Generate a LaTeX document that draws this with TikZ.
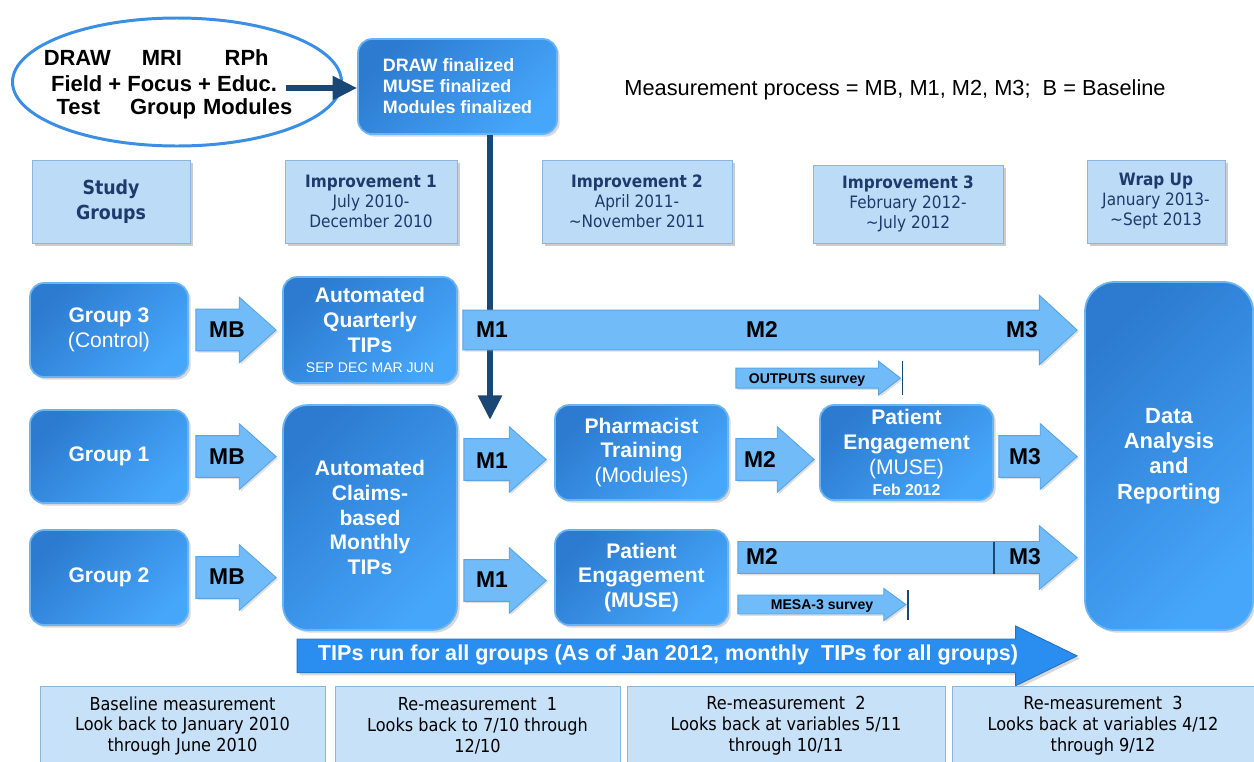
\documentclass[tikz,border=0pt]{standalone}
\usepackage{fontspec}
\setmainfont{Liberation Sans}
\newfontfamily\tahoma{DejaVu Sans Condensed}
\usetikzlibrary{arrows.meta,positioning,shapes,shadows,calc}

\definecolor{boxdark}{HTML}{2C7BD0}
\definecolor{boxlight}{HTML}{46A6FA}
\definecolor{boxedge}{HTML}{6AB4F4}
\definecolor{arrfill}{HTML}{70BBF8}
\definecolor{arredge}{HTML}{58A4E6}
\definecolor{tipsblue}{HTML}{2A8EF0}
\definecolor{hdrfill}{HTML}{BCDBF7}
\definecolor{hdredge}{HTML}{8DB5DB}
\definecolor{hdrtext}{HTML}{1E3A6C}
\definecolor{navy}{HTML}{1B4775}
\definecolor{elledge}{HTML}{3A8EE4}
\definecolor{footfill}{HTML}{C6E1F8}

\tikzset{
  wh/.style 2 args={minimum width=#1*0.02cm, minimum height=#2*0.02cm},
  bluebox/.style={rounded corners=8pt, draw=boxedge, line width=1pt,
    left color=boxdark, right color=boxlight, shading angle=45,
    drop shadow={opacity=.3, shadow xshift=1.5pt, shadow yshift=-1.5pt},
    text=white, align=center, inner sep=0pt,
    font=\bfseries\fontsize{12}{14.2}\selectfont},
  hdrbox/.style={draw=hdredge, fill=hdrfill, text=hdrtext, align=center, inner sep=0pt,
    drop shadow={opacity=.4, shadow xshift=1.5pt, shadow yshift=-1.5pt},
    font=\tahoma\fontsize{9.7}{11.4}\selectfont},
  footbox/.style={draw=hdredge, fill=footfill, text=black, align=center, inner sep=0pt,
    font=\tahoma\fontsize{10.2}{11.9}\selectfont},
  ideaword/.style={inner sep=0pt, font=\bfseries\fontsize{12.5}{14}\selectfont},
  arrlbl/.style={font=\bfseries\fontsize{13}{15}\selectfont, text=black, inner sep=0pt},
  blockarr/.style={fill=arrfill, draw=arredge, line width=.5pt,
    drop shadow={opacity=.25, shadow xshift=1pt, shadow yshift=-1pt}},
  tipsarr/.style={fill=tipsblue, draw=tipsblue!80!black, line width=.5pt,
    drop shadow={opacity=.3, shadow xshift=1.5pt, shadow yshift=-1.5pt}},
  navyarr/.style={draw=navy, line width=3.4pt, -{Triangle[width=13pt,length=14pt]}},
  divider/.style={draw=navy, line width=.8pt},
}

% block arrow: tail, tip, shaft half, head half, head length
\newcommand{\blockarrow}[6][blockarr]{%
  \path[#1] let \p1=#2, \p2=#3 in
    (\x1,\y1+#4) -- (\x2-#6,\y1+#4) -- (\x2-#6,\y1+#5) -- (\x2,\y1)
    -- (\x2-#6,\y1-#5) -- (\x2-#6,\y1-#4) -- (\x1,\y1-#4) -- cycle;}
\newcommand{\ideacol}[1]{\makebox[48.2pt][c]{#1}}

\begin{document}
\begin{tikzpicture}[x=0.02cm, y=-0.02cm]
  \useasboundingbox (0,0) rectangle (1254,761);
  \clip (0,0) rectangle (1254,761);
  \fill[white] (0,0) rectangle (1254,761);

  % top row
  \node[ellipse, draw=elledge, line width=1.7pt, fill=white, wh={329}{128}] (ideas) at (177,82) {};
  \node[ideaword] (ideasa) at (162,58) {\ideacol{DRAW}\ideacol{MRI}\ideacol{RPh}};
  \node[ideaword] (ideasb) at (164,84) {Field + Focus + Educ.};
  \node[ideaword] (ideasc) at (163,109) {\ideacol{Test}\ideacol{Group}\ideacol{Modules}};
  \node[bluebox, wh={199}{95}, align=left, font=\bfseries\fontsize{10.2}{12}\selectfont] (fin) at (457.5,86.5)
    {DRAW finalized\\MUSE finalized\\Modules finalized};
  \node[font=\fontsize{12.4}{14}\selectfont] (meas) at (895,90)
    {Measurement process = MB, M1, M2, M3;\ \ B = Baseline};

  % headers
  \node[hdrbox, wh={158}{83}, font=\tahoma\bfseries\fontsize{11}{14}\selectfont] (sg) at (111,201.5) {Study\\Groups};
  \node[hdrbox, wh={172}{83}] (imp1) at (371,201.5) {{\bfseries Improvement 1}\\July 2010-\\December 2010};
  \node[hdrbox, wh={190}{83}] (imp2) at (637,201.5) {{\bfseries Improvement 2}\\April 2011-\\\textasciitilde November 2011};
  \node[hdrbox, wh={190}{78}] (imp3) at (908,204) {{\bfseries Improvement 3}\\February 2012-\\\textasciitilde July 2012};
  \node[hdrbox, wh={138}{83}] (wrap) at (1156,201.5) {{\bfseries Wrap Up}\\January 2013-\\\textasciitilde Sept 2013};

  % groups and interventions
  \node[bluebox, wh={158}{94}] (g3) at (109,330) {Group 3\\{\mdseries (Control)}};
  \node[bluebox, wh={158}{93}] (g1) at (109,456.5) {Group 1};
  \node[bluebox, wh={158}{95}] (g2) at (109,577.5) {Group 2};
  \node[bluebox, wh={174}{106}] (aqt) at (370,330)
    {Automated\\Quarterly\\TIPs\\[-3pt]{\mdseries\fontsize{8}{9}\selectfont SEP DEC MAR JUN}};
  \node[bluebox, wh={174}{225}, rounded corners=14pt] (acm) at (370,517.5)
    {Automated\\Claims-\\based\\Monthly\\TIPs};
  \node[bluebox, wh={173}{95}] (pt) at (641.5,452.5) {Pharmacist\\Training\\{\mdseries (Modules)}};
  \node[bluebox, wh={173}{95}] (pe1) at (906.5,452.5)
    {Patient\\Engagement\\{\mdseries (MUSE)}\\[-2pt]{\fontsize{9}{10}\selectfont Feb 2012}};
  \node[bluebox, wh={173}{95}] (pe2) at (641.5,577.5) {Patient\\Engagement\\(MUSE)};
  \node[bluebox, wh={168}{348}, rounded corners=17pt, font=\bfseries\fontsize{12.5}{14.4}\selectfont] (da) at (1169,456)
    {Data\\Analysis\\and\\Reporting};

  % finalization flow
  \coordinate (ideasend) at (286,88);
  \coordinate (drop) at (490,420);
  \draw[navyarr] (ideasend) -- (fin.west |- ideasend);
  \draw[navyarr] (fin.south -| drop) -- (drop);

  % measurement arrows
  \blockarrow{($(g3.east)+(7,0)$)}{($(aqt.west)+(-6,0)$)}{11.9pt}{18.7pt}{21pt}
  \blockarrow{($(g1.east)+(7,0)$)}{($(g1.east -| acm.west)+(-6,0)$)}{11.9pt}{18.7pt}{21pt}
  \blockarrow{($(g2.east)+(7,0)$)}{($(g2.east -| acm.west)+(-6,0)$)}{11.9pt}{18.7pt}{21pt}
  \blockarrow{($(aqt.east)+(5,0)$)}{($(aqt.east -| da.west)+(-7,0)$)}{11.3pt}{19.8pt}{21.5pt}
  \blockarrow{($(g1.east -| acm.east)+(6,3)$)}{($(g1.east -| pt.west)+(-8,3)$)}{11.9pt}{18.7pt}{21pt}
  \blockarrow{($(g1.east -| pt.east)+(7,3)$)}{($(g1.east -| pe1.west)+(-5,3)$)}{11.9pt}{18.7pt}{21pt}
  \blockarrow{($(g1.east -| pe1.east)+(5,0)$)}{($(g1.east -| da.west)+(-7,0)$)}{11.9pt}{18.7pt}{21pt}
  \blockarrow{($(g2.east -| acm.east)+(6,3)$)}{($(g2.east -| pe2.west)+(-8,3)$)}{11.9pt}{18.7pt}{21pt}
  \blockarrow{($(pe2.east)+(9,-20)$)}{($(pe2.east -| da.west)+(-7,-20)$)}{9.1pt}{18.1pt}{21.5pt}
  \blockarrow{($(pe1.north -| pt.east)+(7,-26)$)}{($(pe1.north)+(-6,-26)$)}{5.7pt}{9.6pt}{12.5pt}
  \blockarrow{($(pe2.east)+(9,27)$)}{($(pe2.east)+(177,27)$)}{5.4pt}{9.1pt}{12.5pt}
  \blockarrow[tipsarr]{($(acm.south west)+(15,25)$)}{($(acm.south -| da.west)+(-7,25)$)}{9.6pt}{17pt}{35pt}

  \draw[divider] ($(pe1.north)+(-4,-43)$) -- ($(pe1.north)+(-4,-9)$);
  \draw[divider] ($(pe2.east)+(179,12)$) -- ($(pe2.east)+(179,42)$);
  \draw[divider] ($(pe1.east |- pe2.east)+(0,-36)$) -- ($(pe1.east |- pe2.east)+(0,-4)$);

  \node[arrlbl] (mb3) at (227,330) {MB};
  \node[arrlbl] (mb1) at (227,457) {MB};
  \node[arrlbl] (mb2) at (227,577) {MB};
  \node[arrlbl] (m1top) at (492,330) {M1};
  \node[arrlbl] (m2top) at (762,330) {M2};
  \node[arrlbl] (m3top) at (1022,330) {M3};
  \node[arrlbl] (m1one) at (492,461) {M1};
  \node[arrlbl] (m2one) at (760,460) {M2};
  \node[arrlbl] (m3one) at (1025,457) {M3};
  \node[arrlbl] (m1two) at (492,580) {M1};
  \node[arrlbl] (m2two) at (762,557) {M2};
  \node[arrlbl] (m3two) at (1025,557) {M3};
  \node[arrlbl, font=\bfseries\fontsize{8}{9}\selectfont] (outputs) at (807,380) {OUTPUTS survey};
  \node[arrlbl, font=\bfseries\fontsize{8}{9}\selectfont] (mesa) at (822,606) {MESA-3 survey};
  \node[arrlbl, text=white, font=\bfseries\fontsize{12.3}{14}\selectfont] (tips) at (668,655)
    {TIPs run for all groups (As of Jan 2012, monthly\ \ TIPs for all groups)};

  % timeline notes
  \node[footbox, wh={285}{80}] (base) at (182.5,726) {Baseline measurement\\Look back to January 2010\\through June 2010};
  \node[footbox, wh={285}{80}] (re1) at (477.5,726) {Re-measurement\ \ 1\\Looks back to 7/10 through\\12/10};
  \node[footbox, wh={318}{80}] (re2) at (786,726) {Re-measurement\ \ 2\\Looks back at variables 5/11\\through 10/11};
  \node[footbox, wh={302}{80}] (re3) at (1103,726) {Re-measurement\ \ 3\\Looks back at variables 4/12\\through 9/12};
\end{tikzpicture}
\end{document}
